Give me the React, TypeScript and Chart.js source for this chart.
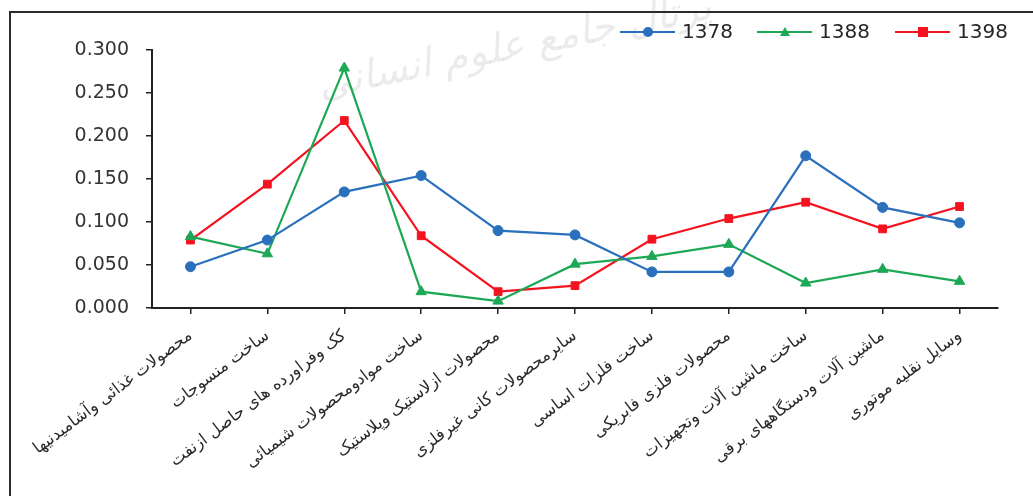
import React, { useEffect, useRef } from "react";
import { Chart, registerables } from "chart.js";
Chart.register(...registerables);

const categories = [
  "محصولات غذائی وآشامیدنیها",
  "ساخت منسوجات",
  "کک وفراورده های حاصل ازنفت",
  "ساخت موادومحصولات شیمیائی",
  "محصولات ازلاستیک وپلاستیک",
  "سایرمحصولات کانی غیرفلزی",
  "ساخت فلزات اساسی",
  "محصولات فلزی فابریکی",
  "ساخت ماشین آلات وتجهیزات",
  "ماشین آلات ودستگاههای برقی",
  "وسایل نقلیه موتوری",
];

const seriesNames = ["1378", "1388", "1398"];
const values1378 = [0.048, 0.079, 0.135, 0.154, 0.09, 0.085, 0.042, 0.042, 0.177, 0.117, 0.099];
const values1388 = [0.083, 0.063, 0.279, 0.019, 0.008, 0.051, 0.06, 0.074, 0.029, 0.045, 0.031];
const values1398 = [0.079, 0.144, 0.218, 0.084, 0.019, 0.026, 0.08, 0.104, 0.123, 0.092, 0.118];
const yTicks = [0, 0.05, 0.1, 0.15, 0.2, 0.25, 0.3];

const BLUE = "#2A70BC";
const GREEN = "#1DA856";
const RED = "#F5121E";

const watermark = "پرتال جامع علوم انسانی";

const framePlugin = {
  id: "frame",
  beforeDraw(chart: any) {
    const ctx = chart.ctx;
    ctx.save();
    ctx.fillStyle = "#ffffff";
    ctx.fillRect(0, 0, chart.width, chart.height);
    // watermark
    ctx.translate(515, 48);
    ctx.rotate(-0.2);
    ctx.font = "italic 40px 'DejaVu Sans'";
    ctx.fillStyle = "rgba(0,0,0,0.08)";
    ctx.textAlign = "center";
    ctx.textBaseline = "middle";
    ctx.fillText(watermark, 0, 0);
    ctx.restore();
    ctx.save();
    ctx.strokeStyle = "#2b2b2b";
    ctx.lineWidth = 2;
    ctx.beginPath();
    ctx.moveTo(10, chart.height);
    ctx.lineTo(10, 12);
    ctx.lineTo(chart.width, 12);
    ctx.stroke();
    ctx.restore();
  },
};

function drawMarker(ctx: CanvasRenderingContext2D, style: string, x: number, y: number, color: string) {
  ctx.fillStyle = color;
  ctx.beginPath();
  if (style === "circle") {
    ctx.arc(x, y, 5, 0, Math.PI * 2);
  } else if (style === "triangle") {
    ctx.moveTo(x, y - 5);
    ctx.lineTo(x + 5, y + 4);
    ctx.lineTo(x - 5, y + 4);
    ctx.closePath();
  } else {
    ctx.rect(x - 5, y - 5, 10, 10);
  }
  ctx.fill();
}

const legendPlugin = {
  id: "customLegend",
  afterDraw(chart: any) {
    const ctx = chart.ctx;
    const items = [
      { label: seriesNames[0], color: BLUE, style: "circle", x0: 620 },
      { label: seriesNames[1], color: GREEN, style: "triangle", x0: 757 },
      { label: seriesNames[2], color: RED, style: "rect", x0: 895 },
    ];
    const y = 32;
    ctx.save();
    items.forEach((it) => {
      ctx.strokeStyle = it.color;
      ctx.lineWidth = 2.2;
      ctx.beginPath();
      ctx.moveTo(it.x0, y);
      ctx.lineTo(it.x0 + 55, y);
      ctx.stroke();
      drawMarker(ctx, it.style, it.x0 + 28, y, it.color);
      ctx.fillStyle = "#262626";
      ctx.font = "20px 'DejaVu Sans'";
      ctx.textAlign = "left";
      ctx.textBaseline = "middle";
      ctx.fillText(it.label, it.x0 + 62, y + 1);
    });
    ctx.restore();
  },
};

export default function App() {
  const ref = useRef<HTMLCanvasElement | null>(null);
  useEffect(() => {
    if (!ref.current) return;
    const mk = (label: string, data: number[], color: string, style: string, r: number) => ({
      label,
      data,
      borderColor: color,
      backgroundColor: color,
      pointBackgroundColor: color,
      pointBorderColor: color,
      pointStyle: style,
      pointRadius: r,
      pointBorderWidth: 1,
      borderWidth: 2.2,
      tension: 0,
    });
    const chart = new Chart(ref.current, {
      type: "line",
      data: {
        labels: categories,
        datasets: [
          mk(seriesNames[0], values1378, BLUE, "circle", 5),
          mk(seriesNames[1], values1388, GREEN, "triangle", 6),
          mk(seriesNames[2], values1398, RED, "rect", 5.5),
        ],
      },
      options: {
        responsive: false,
        animation: false,
        layout: { padding: { left: 0, top: 50, right: 35, bottom: 0 } },
        plugins: { legend: { display: false }, tooltip: { enabled: false } },
        scales: {
          x: {
            type: "category",
            offset: true,
            grid: {
              display: true,
              offset: false,
              drawOnChartArea: false,
              drawTicks: true,
              tickLength: 6,
              color: "#222",
              lineWidth: 1.5,
            },
            border: { display: true, color: "#222", width: 2 },
            ticks: {
              autoSkip: false,
              minRotation: 37,
              maxRotation: 37,
              padding: 12,
              color: "#2a2a2a",
              font: { family: "'DejaVu Sans'", size: 16.5 },
            },
            afterFit: (scale: any) => {
              scale.height = 496 - 308;
            },
          },
          y: {
            min: 0,
            max: 0.3,
            afterBuildTicks: (scale: any) => {
              scale.ticks = yTicks.map((v) => ({ value: v }));
            },
            grid: {
              display: true,
              drawOnChartArea: false,
              drawTicks: true,
              tickLength: 6,
              color: "#222",
              lineWidth: 1.5,
            },
            border: { display: true, color: "#222", width: 2 },
            ticks: {
              padding: 17,
              color: "#333",
              font: { family: "'DejaVu Sans'", size: 19 },
              callback: (v: any) => Number(v).toFixed(3),
            },
            afterFit: (scale: any) => {
              scale.width = 152;
            },
          },
        },
      },
      plugins: [framePlugin, legendPlugin],
    });
    return () => chart.destroy();
  }, []);
  return (
    <div style={{ position: "absolute", left: 0, top: 0, width: 1033, height: 496 }}>
      <canvas ref={ref} width={1033} height={496} style={{ display: "block", width: 1033, height: 496 }} />
    </div>
  );
}
